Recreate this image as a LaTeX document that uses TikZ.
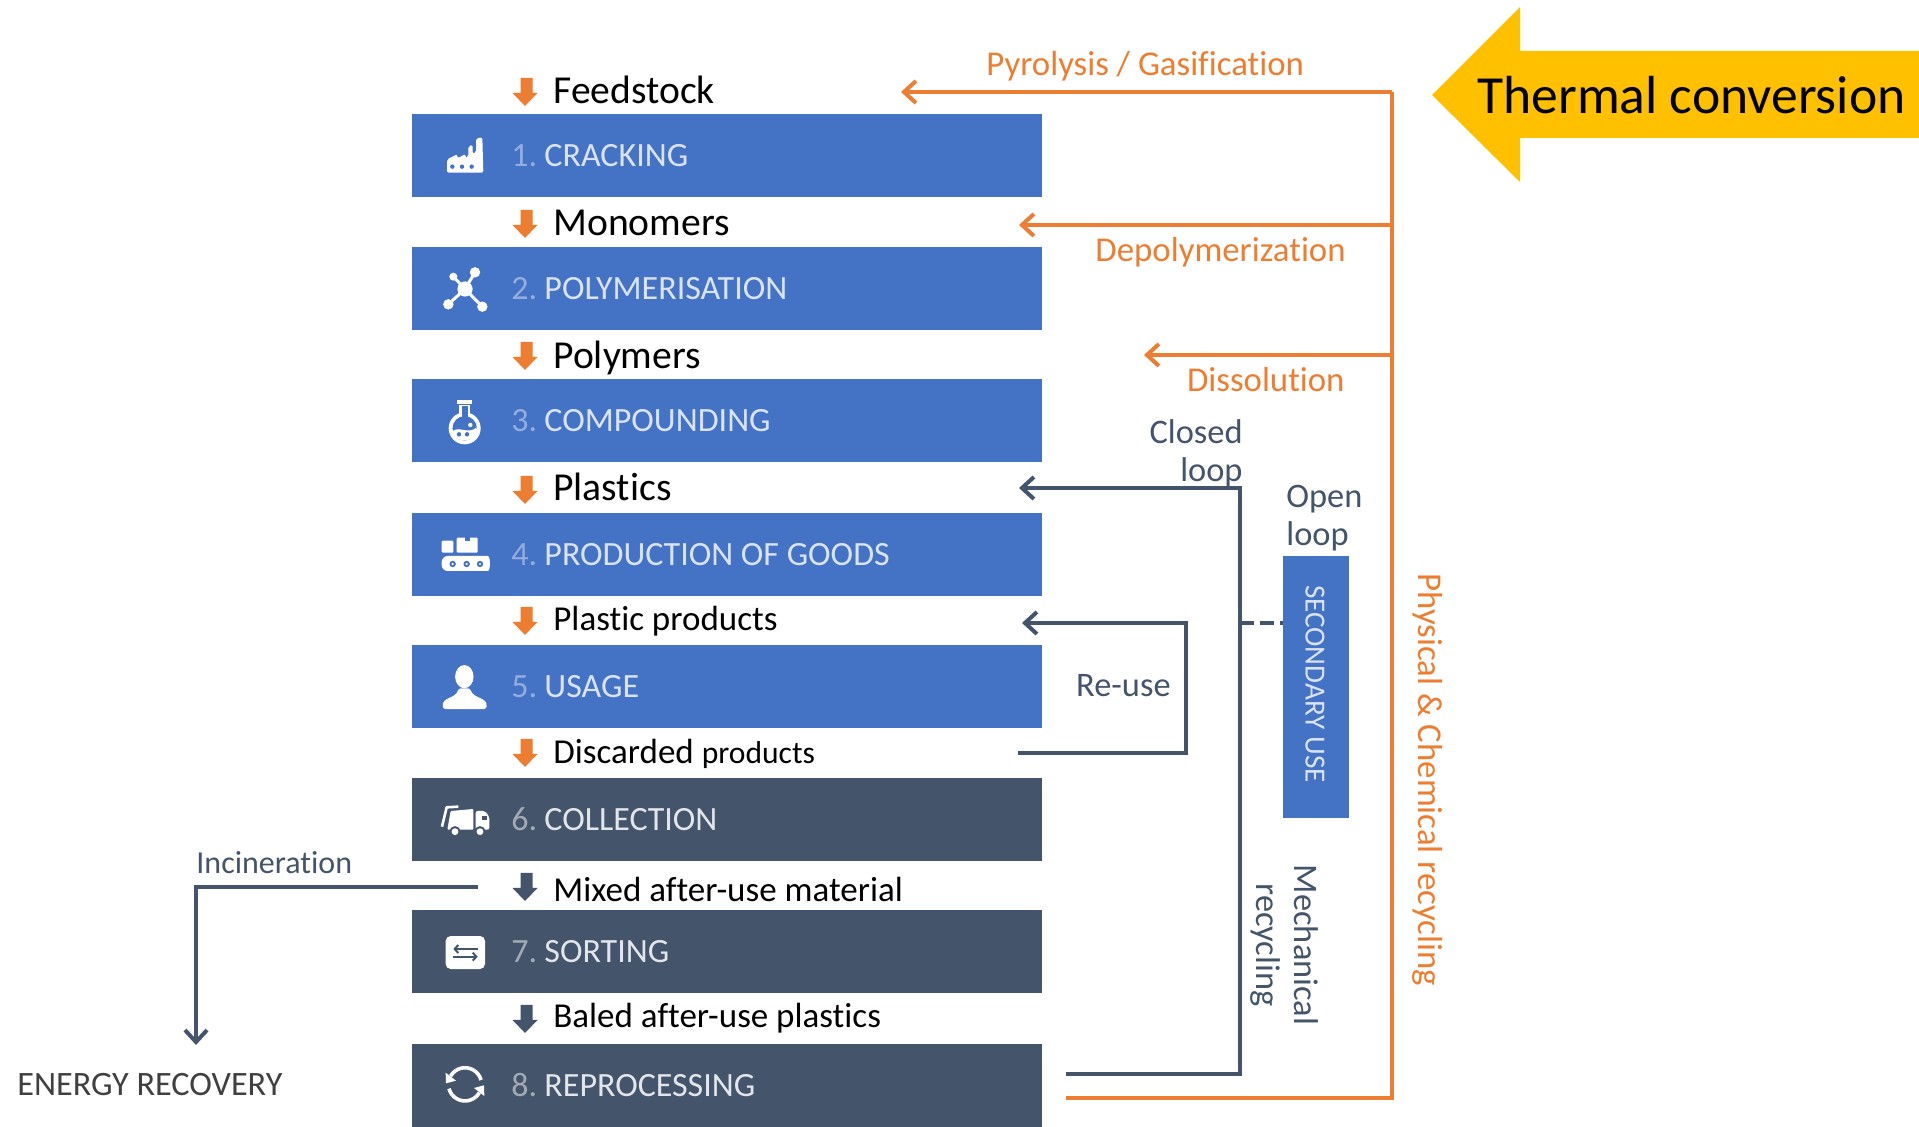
\documentclass[tikz,border=0pt]{standalone}
\usepackage{fontspec}
\setmainfont{Carlito}[Ligatures=NoCommon]
\usetikzlibrary{arrows.meta}
\definecolor{cblue}{HTML}{4472C4}
\definecolor{cdark}{HTML}{44546A}
\definecolor{corange}{HTML}{ED7D31}
\definecolor{cyellow}{HTML}{FFC000}
\definecolor{numblue}{HTML}{94ACDE}
\definecolor{numdark}{HTML}{A2AAB5}
\definecolor{txtblue}{HTML}{DAE3F3}
\definecolor{txtdark}{HTML}{E2E6EC}
\newcommand{\fs}[2]{\fontsize{#1}{#2}\selectfont}
\newcommand{\stepnum}[2]{\textcolor{#1}{#2}\hspace{-1.5pt}}
\tikzset{
  stepbg/.style={rectangle,inner sep=0pt,minimum width=315pt,minimum height=41.5pt},
  steplabel/.style={anchor=base west,inner sep=0pt,font=\fs{17}{20}},
  flowbig/.style={anchor=base west,inner sep=0pt,text=black,font=\fs{19.8}{22}},
  flowsmall/.style={anchor=base west,inner sep=0pt,text=black,font=\fs{17.5}{20}},
  lbl/.style={inner sep=0pt,text=cdark,font=\fs{17.2}{19},align=center},
  olbl/.style={inner sep=0pt,text=corange,font=\fs{17.4}{19},align=center},
  oline/.style={draw=corange,line width=2pt,line join=miter},
  dline/.style={draw=cdark,line width=2pt,line join=miter},
  tip/.style={-{Straight Barb[length=6pt,width=11pt,line width=2pt]}},
  zoomscale/.style={x=0.166667pt,y=-0.166667pt},
}
% down block arrow: colour, top y
\newcommand{\flowarrow}[3]{\fill[#2] (520.5,#3) -- (532.5,#3) -- (532.5,#3+15) -- (537.5,#3+15) -- (525,#3+28) -- (512.5,#3+15) -- (520.5,#3+15) -- cycle;}
\begin{document}
\begin{tikzpicture}[x=0.5pt,y=-0.5pt]
\useasboundingbox (0,0) rectangle (1919,1127);
\fill[white] (0,0) rectangle (1919,1127);

% thermal arrow
\fill[cyellow] (1432,95) -- (1520,7) -- (1520,51) -- (1919,51) -- (1919,138) -- (1520,138) -- (1520,182) -- cycle;
\node (thermal) [anchor=base west,inner sep=0pt,text=black,font=\fs{26.8}{30}] at (1477,113.5) {Thermal conversion};

% step boxes
\node (b1) [stepbg,fill=cblue] at (727,155.5) {};
\node (b2) [stepbg,fill=cblue] at (727,288.5) {};
\node (b3) [stepbg,fill=cblue] at (727,420.5) {};
\node (b4) [stepbg,fill=cblue] at (727,554.5) {};
\node (b5) [stepbg,fill=cblue] at (727,686.5) {};
\node (b6) [stepbg,fill=cdark] at (727,819.5) {};
\node (b7) [stepbg,fill=cdark] at (727,951.5) {};
\node (b8) [stepbg,fill=cdark] at (727,1085.5) {};

\node (t1) [steplabel,text=txtblue] at (511,167) {\stepnum{numblue}{1.} CRACKING};
\node (t2) [steplabel,text=txtblue] at (511,300) {\stepnum{numblue}{2.} POLYMERISATION};
\node (t3) [steplabel,text=txtblue] at (511,432) {\stepnum{numblue}{3.} COMPOUNDING};
\node (t4) [steplabel,text=txtblue] at (511,566) {\stepnum{numblue}{4.} PRODUCTION OF GOODS};
\node (t5) [steplabel,text=txtblue] at (511,698) {\stepnum{numblue}{5.} USAGE};
\node (t6) [steplabel,text=txtdark] at (511,831) {\stepnum{numdark}{6.} COLLECTION};
\node (t7) [steplabel,text=txtdark] at (511,963) {\stepnum{numdark}{7.} SORTING};
\node (t8) [steplabel,text=txtdark] at (511,1097) {\stepnum{numdark}{8.} REPROCESSING};

% flow arrows and labels
\flowarrow{}{corange}{78}
\flowarrow{}{corange}{210}
\flowarrow{}{corange}{342}
\flowarrow{}{corange}{476}
\flowarrow{}{corange}{607}
\flowarrow{}{corange}{739}
\flowarrow{}{cdark}{873}
\flowarrow{}{cdark}{1005}
\node (f1) [flowbig] at (553,103.5) {Feedstock};
\node (f2) [flowbig] at (553,235.5) {Monomers};
\node (f3) [flowbig] at (553,368.5) {Polymers};
\node (f4) [flowbig] at (553,501) {Plastics};
\node (f5) [flowsmall] at (553,630.5) {Plastic products};
\node (f6) [flowsmall] at (553,763.5) {Discarded {\fs{15.8}{18}products}};
\node (f7) [flowsmall] at (553,901.5) {Mixed after-use material};
\node (f8) [flowsmall] at (553,1028) {Baled after-use plastics};

% secondary use
\node (sec) [rectangle,fill=cblue,inner sep=0pt,minimum width=33pt,minimum height=131pt] at (1316,687) {};
\node (sectxt) [rotate=-90,inner sep=0pt,text=txtblue,font=\fs{14.6}{17}] at (1315,684) {SECONDARY USE};

% connector coordinates
\coordinate (obot) at (1066,1098);
\coordinate (ocorner) at (1392,1098);
\coordinate (otop) at (1392,92);
\coordinate (opyro) at (901,92);
\coordinate (odep0) at (1392,225);
\coordinate (odep) at (1019,225);
\coordinate (odis0) at (1392,355);
\coordinate (odis) at (1144,355);
\coordinate (dstart) at (1066,1074);
\coordinate (dcorner) at (1240,1074);
\coordinate (dtop) at (1240,488);
\coordinate (dtip) at (1019,488);
\coordinate (rstart) at (1018,753);
\coordinate (rc1) at (1186,753);
\coordinate (rc2) at (1186,623);
\coordinate (rtip) at (1022,623);
\coordinate (dash0) at (1240,623);
\coordinate (istart) at (478,887);
\coordinate (ic) at (196,887);
\coordinate (itip) at (196,1045);

\draw[oline] (obot) -- (ocorner) -- (otop);
\draw[oline,tip] (otop) -- (opyro);
\draw[oline,tip] (odep0) -- (odep);
\draw[oline,tip] (odis0) -- (odis);
\draw[dline,tip] (dstart) -- (dcorner) -- (dtop) -- (dtip);
\draw[dline,tip] (rstart) -- (rc1) -- (rc2) -- (rtip);
\draw[dline,tip] (istart) -- (ic) -- (itip);
\draw[dline,dash pattern=on 7pt off 3pt on 7pt off 3pt] (dash0) -- (sec.west |- dash0);

% connector labels
\node (lpyro) [olbl,anchor=base west] at (986,76) {Pyrolysis / Gasification};
\node (ldep) [olbl,anchor=base east] at (1346,262) {Depolymerization};
\node (ldis) [olbl,anchor=base east] at (1345,392) {Dissolution};
\node (lclosed) [lbl,align=right,anchor=north east] at (1243,419) {Closed\\loop};
\node (lopen) [lbl,align=left,anchor=north west] at (1286,485) {Open\\loop};
\node (lreuse) [lbl,anchor=base east] at (1171,697) {Re-use};
\node (linc) [lbl,anchor=base west,font=\fs{16}{19}] at (196,874) {Incineration};
\node (lener) [anchor=base west,inner sep=0pt,text=black!75,font=\fs{17.1}{19}] at (17,1096) {ENERGY RECOVERY};
\node (lmech) [lbl,rotate=-90] at (1284,945) {Mechanical\\recycling};
\node (lphys) [olbl,rotate=-90] at (1428,780) {Physical \& Chemical recycling};

% ---- icons (coordinates in 3x zoom units)
% factory
\begin{scope}[shift={(400,60)},zoomscale]
\fill[white,rounded corners=1pt] (141,338) -- (141,298) -- (172,283) -- (172,295) -- (197,282) -- (197,295) -- (205,290) -- (205,258) -- (218,255) -- (218,282) -- (228,278) -- (228,235) -- (247,232) -- (250,338) -- cycle;
\fill[cblue] (157,320) circle[radius=1.1pt] (186,320) circle[radius=1.1pt] (215,320) circle[radius=1.1pt];
% polymer
\draw[white,line width=1.5pt] (195,687) -- (225,637) (195,687) -- (160,650) (195,687) -- (145,733) (195,687) -- (247,740);
\fill[white] (195,687) circle[radius=3.8pt] (225,637) circle[radius=2.6pt] (160,650) circle[radius=2pt] (145,733) circle[radius=2.6pt] (247,740) circle[radius=2.6pt];
\end{scope}
% flask
\begin{scope}[shift={(433,395)},zoomscale]
\fill[white] (72,15) rectangle (118,27);
\fill[white] (78,30) rectangle (112,70);
\fill[white] (95,100) circle[radius=8pt];
\fill[cblue] (86,32) rectangle (104,72);
\fill[cblue] (95,100) circle[radius=6.1pt];
\fill[white] (59,108) .. controls (80,92) and (105,120) .. (131,97) .. controls (135,125) and (115,136) .. (95,136) .. controls (75,136) and (58,125) .. (59,108) -- cycle;
\fill[cblue] (78,118) circle[radius=1.1pt] (102,118) circle[radius=1.1pt];
\fill[white] (112,90) circle[radius=1.1pt];
\end{scope}
% conveyor, person
\begin{scope}[shift={(400,500)},zoomscale]
\fill[white,rounded corners=0.5pt] (125,122) rectangle (160,158);
\fill[white,rounded corners=0.5pt] (170,113) rectangle (233,158);
\fill[cblue] (195,112) rectangle (210,123);
\fill[white,rounded corners=3pt] (125,168) -- (245,168) .. controls (272,168) and (272,213) .. (245,213) -- (125,213) -- cycle;
\fill[cblue] (158,192) circle[radius=1.6pt] (200,192) circle[radius=1.6pt] (240,192) circle[radius=1.6pt];
\fill[white] (158,192) circle[radius=0.6pt] (200,192) circle[radius=0.6pt] (240,192) circle[radius=0.6pt];
\fill[white] (193,530) ellipse[x radius=4.6pt,y radius=5.8pt];
\fill[white,rounded corners=1.2pt] (129,627) .. controls (125,590) and (165,598) .. (176,565) -- (210,565) .. controls (222,598) and (263,590) .. (259,627) -- cycle;
\end{scope}
% truck
\begin{scope}[shift={(430,795)},zoomscale]
\draw[white,line width=1.3pt,line join=round] (36,95) -- (50,37) -- (85,35);
\fill[white,rounded corners=0.5pt] (62,48) -- (130,42) -- (130,104) -- (52,104) -- cycle;
\fill[white,rounded corners=1pt] (137,48) -- (165,48) -- (178,65) -- (178,104) -- (137,104) -- cycle;
\fill[cdark] (155,62) rectangle (172,75);
\fill[cdark] (75,110) circle[radius=2.8pt] (150,110) circle[radius=2.8pt];
\fill[white] (75,110) circle[radius=1.7pt] (150,110) circle[radius=1.7pt];
\end{scope}
% sorting, rotation
\begin{scope}[shift={(400,800)},zoomscale]
\fill[white,rounded corners=2.5pt] (137,408) rectangle (255,507);
\draw[cdark,line width=1pt,-{Straight Barb[length=1.8pt,width=4pt]}] (233,447) -- (160,447);
\draw[cdark,line width=1pt,-{Straight Barb[length=1.8pt,width=4pt]}] (160,470) -- (233,470);
\draw[white,line width=1.8pt] (195,853) ++(150:8.3pt) arc[start angle=150,end angle=15,radius=8.3pt];
\draw[white,line width=1.8pt] (195,853) ++(-30:8.3pt) arc[start angle=-30,end angle=-165,radius=8.3pt];
\fill[white] (137,818) -- (168,842) -- (138,850) -- cycle;
\fill[white] (253,888) -- (222,864) -- (252,856) -- cycle;
\end{scope}
\end{tikzpicture}
\end{document}
